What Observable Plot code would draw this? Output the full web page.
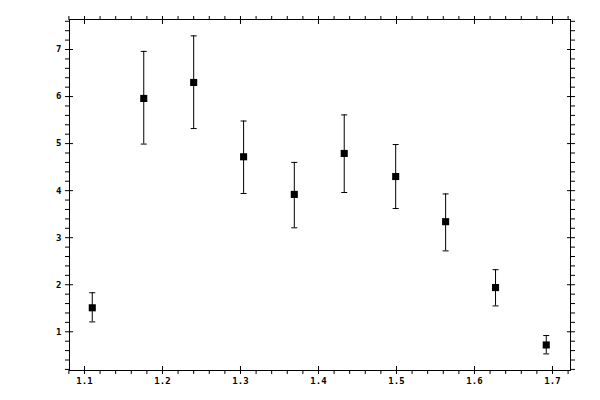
<!DOCTYPE html>
<html><head><meta charset="utf-8">
<script src="https://cdn.jsdelivr.net/npm/d3@7"></script>
<script src="https://cdn.jsdelivr.net/npm/@observablehq/plot@0.6"></script>
<style>body{margin:0;background:#fff;} svg{display:block;}</style>
</head><body><div id="chart"></div>
<script>
// Data
const xs    = [1.110, 1.176, 1.240, 1.304, 1.369, 1.433, 1.499, 1.563, 1.627, 1.692];
const ys    = [1.51, 5.96, 6.30, 4.72, 3.92, 4.79, 4.30, 3.34, 1.94, 0.72];
const yLow  = [1.21, 4.99, 5.32, 3.94, 3.21, 3.96, 3.62, 2.72, 1.55, 0.53];
const yHigh = [1.83, 6.96, 7.29, 5.48, 4.60, 5.61, 4.98, 3.93, 2.32, 0.92];

// Tick values
const xMajor = [1.1, 1.2, 1.3, 1.4, 1.5, 1.6, 1.7];
const xMinor = d3.range(54, 87).map(i => i / 50).filter(v => Math.round(v * 100) % 10 !== 0);
const yMajor = [1, 2, 3, 4, 5, 6, 7];
const yMinor = d3.range(1, 39).map(i => i / 5).filter(v => Math.round(v * 10) % 10 !== 0);
const xDomain = [1.0808, 1.7231];
const yDomain = [0.177, 7.638];

const data = xs.map((x, i) => ({x, y: ys[i], lo: yLow[i], hi: yHigh[i]}));

const font = {fontFamily: "DejaVu Sans Mono", fontSize: 9, fontWeight: "bold"};
const blank = () => "";

const cap = {draw(ctx) { ctx.moveTo(-3, 0); ctx.lineTo(3, 0); }};

const chart = Plot.plot({
  width: 600,
  height: 400,
  marginLeft: 69,
  marginRight: 30,
  marginTop: 19,
  marginBottom: 30,
  style: {background: "#fff", color: "#000"},
  x: {domain: xDomain},
  y: {domain: yDomain},
  marks: [
    Plot.frame({stroke: "#000", strokeWidth: 1}),
    // bottom
    Plot.axisX(xMajor, {anchor: "bottom", tickSize: 4, tickPadding: 3, tickFormat: d3.format(".1f"), label: null, ...font}),
    Plot.axisX(xMajor, {anchor: "bottom", tickSize: -4, tickFormat: blank, label: null}),
    Plot.axisX(xMinor, {anchor: "bottom", tickSize: 4, tickFormat: blank, label: null}),
    // top
    Plot.axisX(xMajor, {anchor: "top", tickSize: 4, tickFormat: blank, label: null}),
    Plot.axisX(xMajor, {anchor: "top", tickSize: -4, tickFormat: blank, label: null}),
    Plot.axisX(xMinor, {anchor: "top", tickSize: 4, tickFormat: blank, label: null}),
    // left
    Plot.axisY(yMajor, {anchor: "left", tickSize: 4, tickPadding: 4, tickFormat: d3.format("d"), label: null, ...font}),
    Plot.axisY(yMajor, {anchor: "left", tickSize: -4, tickFormat: blank, label: null}),
    Plot.axisY(yMinor, {anchor: "left", tickSize: 4, tickFormat: blank, label: null}),
    // right
    Plot.axisY(yMajor, {anchor: "right", tickSize: 4, tickFormat: blank, label: null}),
    Plot.axisY(yMajor, {anchor: "right", tickSize: -4, tickFormat: blank, label: null}),
    Plot.axisY(yMinor, {anchor: "right", tickSize: 4, tickFormat: blank, label: null}),
    // error bars
    Plot.ruleX(data, {x: "x", y1: "lo", y2: "hi", stroke: "#000", strokeWidth: 1}),
    Plot.dot(data, {x: "x", y: "hi", symbol: cap, r: 3, stroke: "#000", strokeWidth: 1, fill: "none"}),
    Plot.dot(data, {x: "x", y: "lo", symbol: cap, r: 3, stroke: "#000", strokeWidth: 1, fill: "none"}),
    Plot.dot(data, {x: "x", y: "y", symbol: "square", r: 4, fill: "#000", stroke: "none"})
  ]
});
document.getElementById("chart").appendChild(chart);
</script>
</body></html>
